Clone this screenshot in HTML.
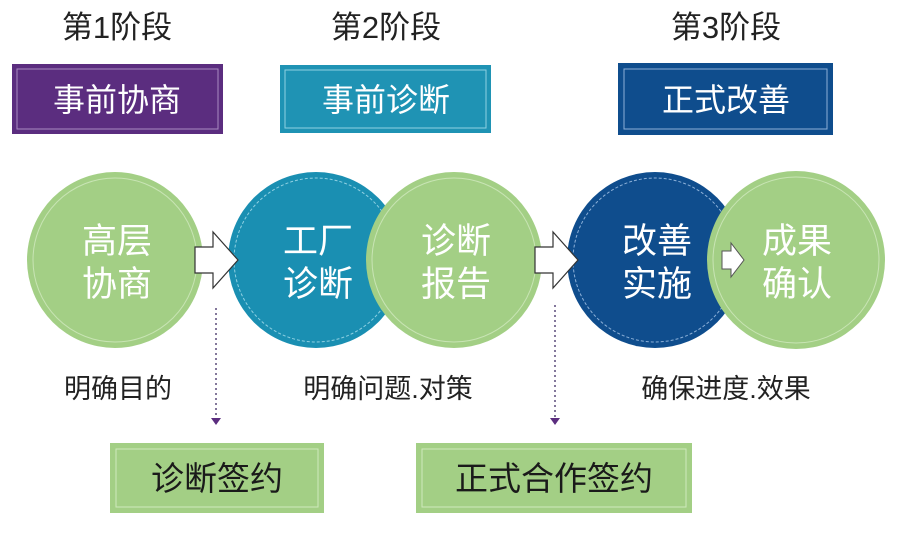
<!DOCTYPE html>
<html><head><meta charset="utf-8"><style>
html,body{margin:0;padding:0;background:#fff}
svg{display:block}
text{font-family:"Liberation Sans","Noto Sans CJK SC",sans-serif}
</style></head><body>
<svg width="901" height="535" viewBox="0 0 901 535" xmlns="http://www.w3.org/2000/svg">
<g font-size="31" fill="#222" text-anchor="middle">
<text x="117" y="38">第1阶段</text>
<text x="386" y="38">第2阶段</text>
<text x="726" y="38">第3阶段</text>
</g>
<rect x="12" y="64" width="211" height="70" fill="#5b2d7f"/>
<rect x="17" y="69" width="201" height="60" fill="none" stroke="#a98cc0" stroke-width="1"/>
<rect x="280" y="65" width="211" height="68" fill="#1f93b4"/>
<rect x="285" y="70" width="201" height="58" fill="none" stroke="#8fd0e2" stroke-width="1"/>
<rect x="618" y="63" width="215" height="72" fill="#0f4d8d"/>
<rect x="624" y="69" width="203" height="60" fill="none" stroke="#8cb0d8" stroke-width="1"/>
<g font-size="32" fill="#fff" text-anchor="middle">
<text x="117" y="111">事前协商</text>
<text x="386" y="111">事前诊断</text>
<text x="726" y="111">正式改善</text>
</g>
<circle cx="115" cy="260" r="88" fill="#a3cf85"/>
<circle cx="115" cy="260" r="82" fill="none" stroke="#c8e4b4" stroke-width="1"/>
<circle cx="316" cy="260" r="88" fill="#1a8fb2"/>
<circle cx="316" cy="260" r="82" fill="none" stroke="#8fd0e2" stroke-width="1" stroke-dasharray="3 2"/>
<circle cx="454" cy="260" r="88" fill="#a3cf85"/>
<circle cx="454" cy="260" r="82" fill="none" stroke="#c8e4b4" stroke-width="1"/>
<circle cx="655" cy="260" r="88" fill="#0f4d8d"/>
<circle cx="655" cy="260" r="82" fill="none" stroke="#8cb0d8" stroke-width="1" stroke-dasharray="3 2"/>
<circle cx="796" cy="260" r="89" fill="#a3cf85"/>
<circle cx="796" cy="260" r="83" fill="none" stroke="#c8e4b4" stroke-width="1"/>
<g font-size="35" fill="#fff" text-anchor="middle">
<text x="117" y="253">高层</text><text x="117" y="296">协商</text>
<text x="318" y="253">工厂</text><text x="318" y="296">诊断</text>
<text x="456" y="253">诊断</text><text x="456" y="296">报告</text>
<text x="657" y="253">改善</text><text x="657" y="296">实施</text>
<text x="797" y="253">成果</text><text x="797" y="296">确认</text>
</g>
<polygon points="195,247 213,247 213,232 238,260 213,288 213,273 195,273" fill="#fff" stroke="#333" stroke-width="1.2"/>
<polygon points="535,247 553,247 553,232 578,260 553,288 553,273 535,273" fill="#fff" stroke="#333" stroke-width="1.2"/>
<polygon points="722,251 731,251 731,243 744,260 731,277 731,269 722,269" fill="#fff" stroke="#555" stroke-width="1"/>
<line x1="216" y1="308" x2="216" y2="418" stroke="#5a4a7a" stroke-width="1.5" stroke-dasharray="2 3"/>
<polygon points="211,418 221,418 216,425" fill="#5b2d7f"/>
<line x1="555" y1="305" x2="555" y2="418" stroke="#5a4a7a" stroke-width="1.5" stroke-dasharray="2 3"/>
<polygon points="550,418 560,418 555,425" fill="#5b2d7f"/>
<g font-size="27" fill="#222" text-anchor="middle">
<text x="118" y="398">明确目的</text>
<text x="388" y="398">明确问题.对策</text>
<text x="726" y="398">确保进度.效果</text>
</g>
<rect x="110" y="443" width="214" height="70" fill="#a3cf85"/>
<rect x="116" y="449" width="202" height="58" fill="none" stroke="#cfe8bd" stroke-width="1"/>
<rect x="416" y="443" width="276" height="70" fill="#a3cf85"/>
<rect x="422" y="449" width="264" height="58" fill="none" stroke="#cfe8bd" stroke-width="1"/>
<g font-size="33" fill="#1a1a1a" text-anchor="middle">
<text x="217" y="490">诊断签约</text>
<text x="554" y="490">正式合作签约</text>
</g>
</svg>
</body></html>
